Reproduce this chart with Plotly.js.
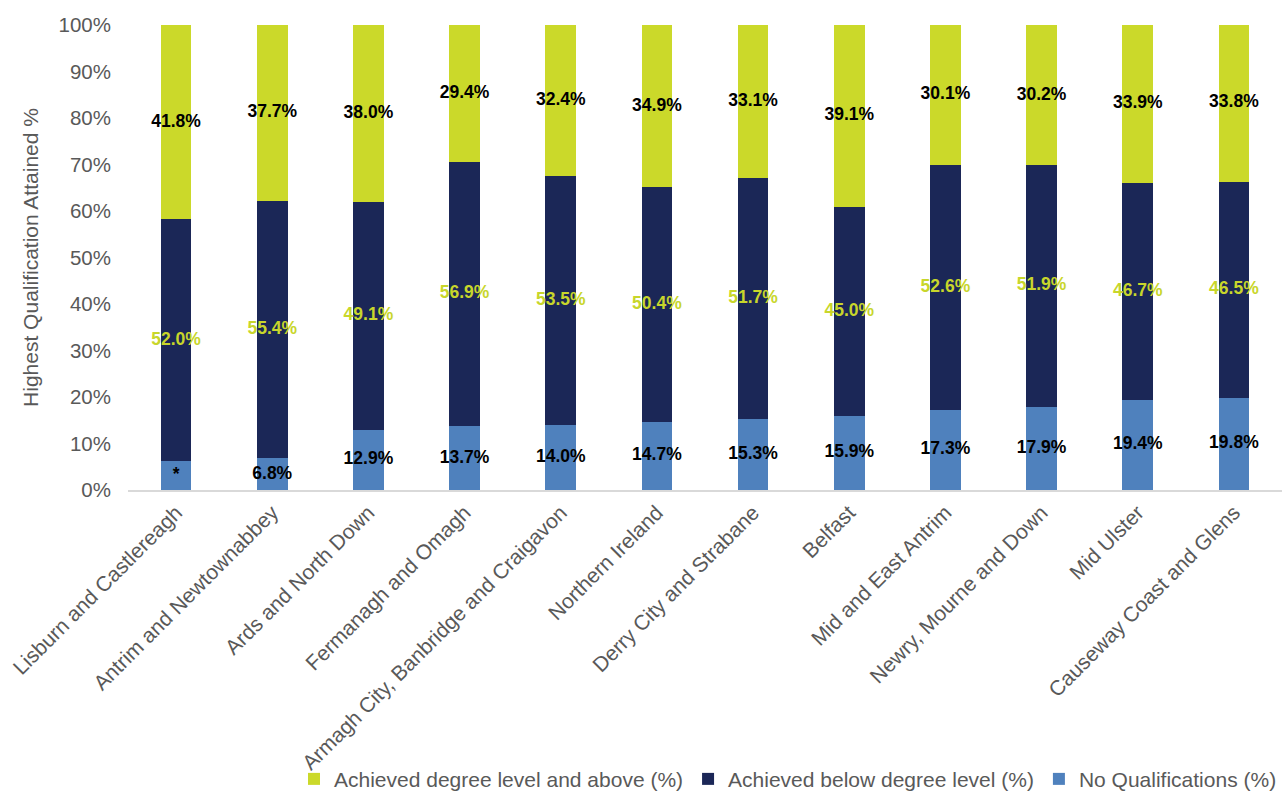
<!DOCTYPE html>
<html>
<head>
<meta charset="utf-8">
<script src="https://cdn.plot.ly/plotly-3.0.1.min.js"></script>
<style>html,body{margin:0;padding:0;background:#fff;}#chart{width:1288px;height:794px;}</style>
</head>
<body>
<div id="chart"></div>
<script>
const categories = [
  "Lisburn and Castlereagh", "Antrim and Newtownabbey", "Ards and North Down",
  "Fermanagh and Omagh", "Armagh City, Banbridge and Craigavon", "Northern Ireland",
  "Derry City and Strabane", "Belfast", "Mid and East Antrim",
  "Newry, Mourne and Down", "Mid Ulster", "Causeway Coast and Glens"
];
const noQualifications = [6.2, 6.8, 12.9, 13.7, 14.0, 14.7, 15.3, 15.9, 17.3, 17.9, 19.4, 19.8];
const belowDegree = [52.0, 55.4, 49.1, 56.9, 53.5, 50.4, 51.7, 45.0, 52.6, 51.9, 46.7, 46.5];
const degreeAndAbove = [41.8, 37.7, 38.0, 29.4, 32.4, 34.9, 33.1, 39.1, 30.1, 30.2, 33.9, 33.8];
const noQualLabels = ["*", "6.8%", "12.9%", "13.7%", "14.0%", "14.7%", "15.3%", "15.9%", "17.3%", "17.9%", "19.4%", "19.8%"];

const seriesNames = ["Achieved degree level and above (%)", "Achieved below degree level (%)", "No Qualifications (%)"];

const cGreen = "#cbd92a", cNavy = "#1b2757", cBlue = "#4f81bd";
const fmt = v => v.toFixed(1) + "%";
const lblFont = (color) => ({family: "Arial, Liberation Sans, sans-serif", size: 17.5, color: color, weight: 700});

const traces = [
  {type: "bar", name: seriesNames[2], x: categories, y: noQualifications, marker: {color: cBlue}, hoverinfo: "none"},
  {type: "bar", name: seriesNames[1], x: categories, y: belowDegree, marker: {color: cNavy}, hoverinfo: "none"},
  {type: "bar", name: seriesNames[0], x: categories, y: degreeAndAbove, marker: {color: cGreen}, hoverinfo: "none"},
  {type: "scatter", mode: "text", x: categories, y: noQualifications.map(v => v / 2),
   text: noQualLabels, textfont: lblFont("#000000"), showlegend: false, hoverinfo: "none", cliponaxis: false},
  {type: "scatter", mode: "text", x: categories, y: belowDegree.map((v, i) => noQualifications[i] + v / 2),
   text: belowDegree.map(fmt), textfont: lblFont("#c8d62b"), showlegend: false, hoverinfo: "none", cliponaxis: false},
  {type: "scatter", mode: "text", x: categories, y: degreeAndAbove.map((v, i) => noQualifications[i] + belowDegree[i] + v / 2),
   text: degreeAndAbove.map(fmt), textfont: lblFont("#000000"), showlegend: false, hoverinfo: "none", cliponaxis: false}
];

const layout = {
  width: 1288, height: 794,
  margin: {l: 128, r: 6, t: 25, b: 304, autoexpand: false},
  paper_bgcolor: "#ffffff", plot_bgcolor: "#ffffff",
  barmode: "stack", bargap: 0.68,
  font: {family: "Arial, Liberation Sans, sans-serif", color: "#595959", size: 20},
  xaxis: {
    type: "category", range: [-0.5, categories.length - 0.5], tickangle: -45, showgrid: false, zeroline: false,
    showline: true, linecolor: "#d9d9d9", linewidth: 2, ticks: "",
    tickfont: {size: 21, color: "#595959"}, automargin: false, fixedrange: true
  },
  yaxis: {
    range: [0, 100], dtick: 10, tick0: 0, ticksuffix: "%", showgrid: false,
    zeroline: false, showline: false, ticks: "", ticklabelstandoff: 16,
    tickfont: {size: 20.5, color: "#595959"}, automargin: false,
    title: {text: "Highest Qualification Attained %", font: {size: 21, color: "#595959"}, standoff: 14},
    fixedrange: true
  },
  showlegend: true,
  legend: {
    orientation: "h", traceorder: "reversed", x: 1.0, xanchor: "right",
    y: -0.622, yanchor: "middle", font: {size: 21, color: "#595959"},
    itemwidth: 30, bgcolor: "rgba(0,0,0,0)"
  }
};

Plotly.newPlot("chart", traces, layout, {displayModeBar: false, staticPlot: true});
</script>
</body>
</html>
